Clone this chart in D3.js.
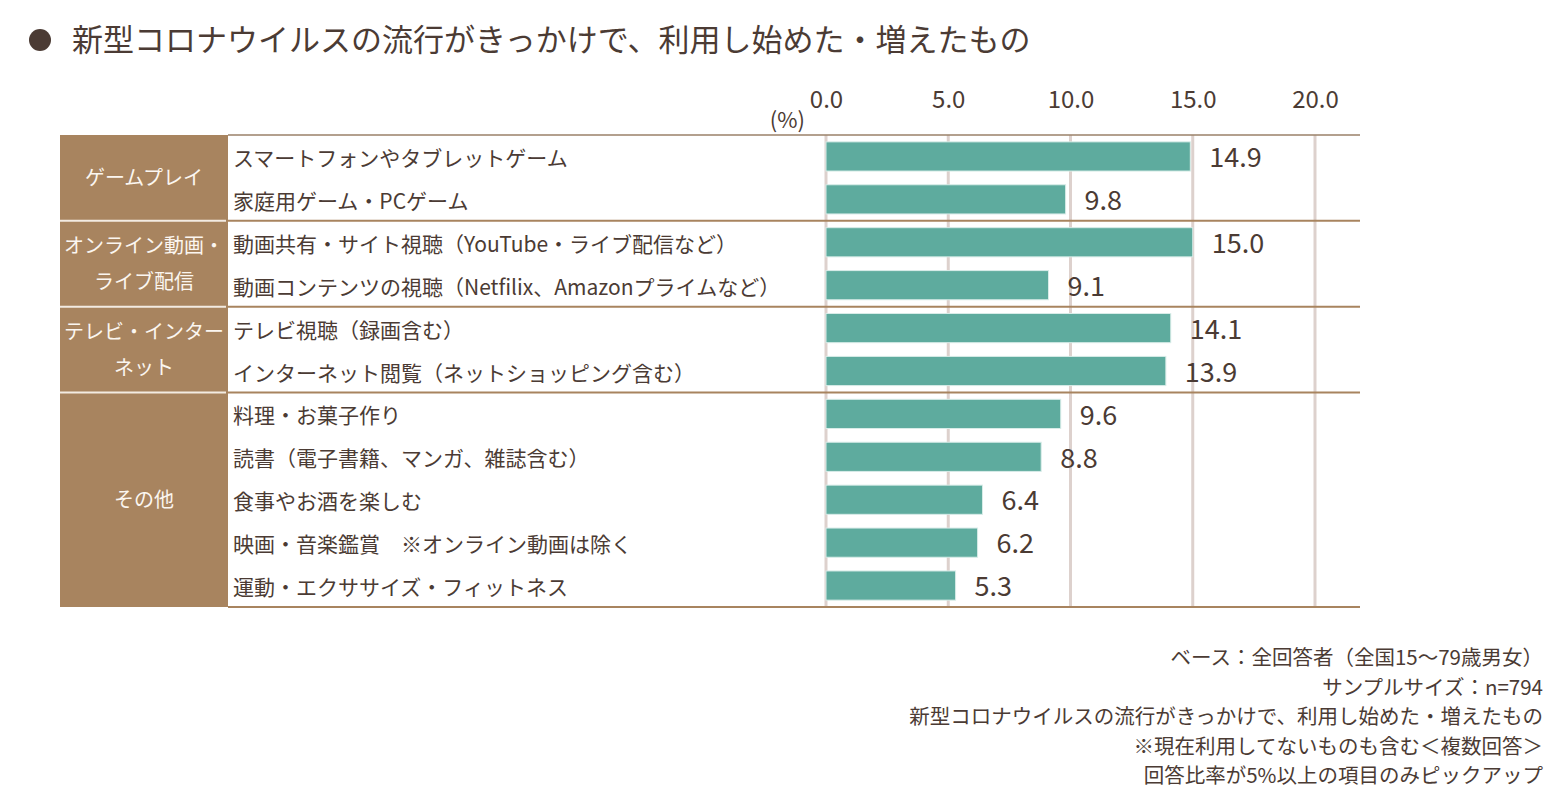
<!DOCTYPE html>
<html>
<head>
<meta charset="utf-8">
<script src="https://cdn.jsdelivr.net/npm/d3@7"></script>
<style>
  body { margin: 0; background: #fff; }
  svg text { font-family: "Noto Sans CJK JP", "Noto Sans", sans-serif; }
</style>
</head>
<body>
<svg id="chart" width="1559" height="808"></svg>
<script>
const title = "新型コロナウイルスの流行がきっかけで、利用し始めた・増えたもの";

const items = [
  "スマートフォンやタブレットゲーム",
  "家庭用ゲーム・PCゲーム",
  "動画共有・サイト視聴（YouTube・ライブ配信など）",
  "動画コンテンツの視聴（Netfilix、Amazonプライムなど）",
  "テレビ視聴（録画含む）",
  "インターネット閲覧（ネットショッピング含む）",
  "料理・お菓子作り",
  "読書（電子書籍、マンガ、雑誌含む）",
  "食事やお酒を楽しむ",
  "映画・音楽鑑賞　※オンライン動画は除く",
  "運動・エクササイズ・フィットネス"
];
const values = [14.9, 9.8, 15.0, 9.1, 14.1, 13.9, 9.6, 8.8, 6.4, 6.2, 5.3];

// group name lines and how many items each group covers
const groups = [
  { lines: ["ゲームプレイ"], count: 2 },
  { lines: ["オンライン動画・", "ライブ配信"], count: 2 },
  { lines: ["テレビ・インター", "ネット"], count: 2 },
  { lines: ["その他"], count: 5 }
];
const ticks = [0, 5, 10, 15, 20];

const notes = [
  "ベース：全回答者（全国15～79歳男女）",
  "サンプルサイズ：n=794",
  "新型コロナウイルスの流行がきっかけで、利用し始めた・増えたもの",
  "※現在利用してないものも含む＜複数回答＞",
  "回答比率が5%以上の項目のみピックアップ"
];

const textColor = "#4b3b34";
const brown = "#a8845f";
const teal = "#5eab9e";
const gridColor = "#ddd1cd";

const svg = d3.select("#chart");

const yTop = 135, yBottom = 607;
const groupX0 = 60, groupX1 = 228, lineEnd = 1360;

const x = d3.scaleLinear().domain([0, 20]).range([826, 1315]);
const y = d3.scaleBand().domain(items).range([yTop, yBottom]).paddingInner(0.32).paddingOuter(0.16);

// title
svg.append("circle").attr("cx", 40).attr("cy", 40).attr("r", 11).attr("fill", textColor);
svg.append("text")
  .attr("x", 72).attr("y", 51)
  .attr("font-size", 31)
  .attr("fill", textColor)
  .text(title);

// group boxes
let start = 0;
const groupRows = groups.map(g => {
  const r = { g, first: start, last: start + g.count - 1 };
  start += g.count;
  return r;
});
const rowTop = i => yTop + i * y.step();

svg.append("rect")
  .attr("x", groupX0).attr("y", yTop)
  .attr("width", groupX1 - groupX0).attr("height", yBottom - yTop)
  .attr("fill", brown);

// gridlines
svg.append("g")
  .selectAll("line")
  .data(ticks)
  .join("line")
  .attr("x1", d => x(d)).attr("x2", d => x(d))
  .attr("y1", yTop).attr("y2", yBottom)
  .attr("stroke", gridColor)
  .attr("stroke-width", 3);

// top and bottom border
svg.append("line")
  .attr("x1", groupX1).attr("x2", lineEnd)
  .attr("y1", yTop).attr("y2", yTop)
  .attr("stroke", "#9a8068").attr("stroke-width", 1.5);
svg.append("line")
  .attr("x1", groupX1).attr("x2", lineEnd)
  .attr("y1", yBottom).attr("y2", yBottom)
  .attr("stroke", brown).attr("stroke-width", 2);

// separators between groups
groupRows.slice(1).forEach(r => {
  const yy = rowTop(r.first);
  svg.append("line")
    .attr("x1", groupX1).attr("x2", lineEnd)
    .attr("y1", yy).attr("y2", yy)
    .attr("stroke", brown).attr("stroke-width", 2);
  svg.append("line")
    .attr("x1", groupX0).attr("x2", groupX1 - 2)
    .attr("y1", yy).attr("y2", yy)
    .attr("stroke", "#f3ebe2").attr("stroke-width", 2);
});

// group labels
groupRows.forEach(r => {
  const cy = (rowTop(r.first) + rowTop(r.last + 1)) / 2;
  const n = r.g.lines.length;
  svg.append("text")
    .attr("x", (groupX0 + groupX1) / 2)
    .attr("text-anchor", "middle")
    .attr("font-size", 20)
    .attr("fill", "#fbf6f0")
    .selectAll("tspan")
    .data(r.g.lines)
    .join("tspan")
    .attr("x", (groupX0 + groupX1) / 2)
    .attr("y", (d, i) => cy + (i - (n - 1) / 2) * 36)
    .attr("dy", "0.36em")
    .text(d => d);
});

// item labels
svg.append("g")
  .selectAll("text")
  .data(items)
  .join("text")
  .attr("x", 233)
  .attr("y", d => y(d) + y.bandwidth() / 2 + 2)
  .attr("dy", "0.36em")
  .attr("font-size", 21)
  .attr("fill", textColor)
  .text(d => d);

// bars
svg.append("g")
  .selectAll("rect")
  .data(values)
  .join("rect")
  .attr("x", x(0))
  .attr("y", (d, i) => y(items[i]))
  .attr("width", d => x(d) - x(0))
  .attr("height", y.bandwidth())
  .attr("fill", teal)
  .attr("stroke", "#d8ece8")
  .attr("stroke-width", 1);

// value labels
svg.append("g")
  .selectAll("text")
  .data(values)
  .join("text")
  .attr("x", d => x(d) + 19)
  .attr("y", (d, i) => y(items[i]) + y.bandwidth() / 2 + 1)
  .attr("dy", "0.36em")
  .attr("font-size", 27)
  .attr("fill", textColor)
  .text(d => d.toFixed(1));

// axis
const axis = svg.append("g")
  .attr("transform", `translate(0,${yTop - 24})`)
  .call(d3.axisTop(x).tickValues(ticks).tickSize(0).tickFormat(d3.format(".1f")));
axis.select(".domain").remove();
axis.selectAll("text")
  .attr("font-size", 24)
  .attr("fill", textColor)
  .attr("font-family", "\"Noto Sans CJK JP\", sans-serif");

svg.append("text")
  .attr("x", 805).attr("y", 128)
  .attr("text-anchor", "end")
  .attr("font-size", 22)
  .attr("fill", textColor)
  .text("(%)");

// notes
svg.append("g")
  .selectAll("text")
  .data(notes)
  .join("text")
  .attr("x", 1543)
  .attr("y", (d, i) => 658 + i * 29.5)
  .attr("dy", "0.36em")
  .attr("text-anchor", "end")
  .attr("font-size", 20.5)
  .attr("fill", textColor)
  .text(d => d);
</script>
</body>
</html>
